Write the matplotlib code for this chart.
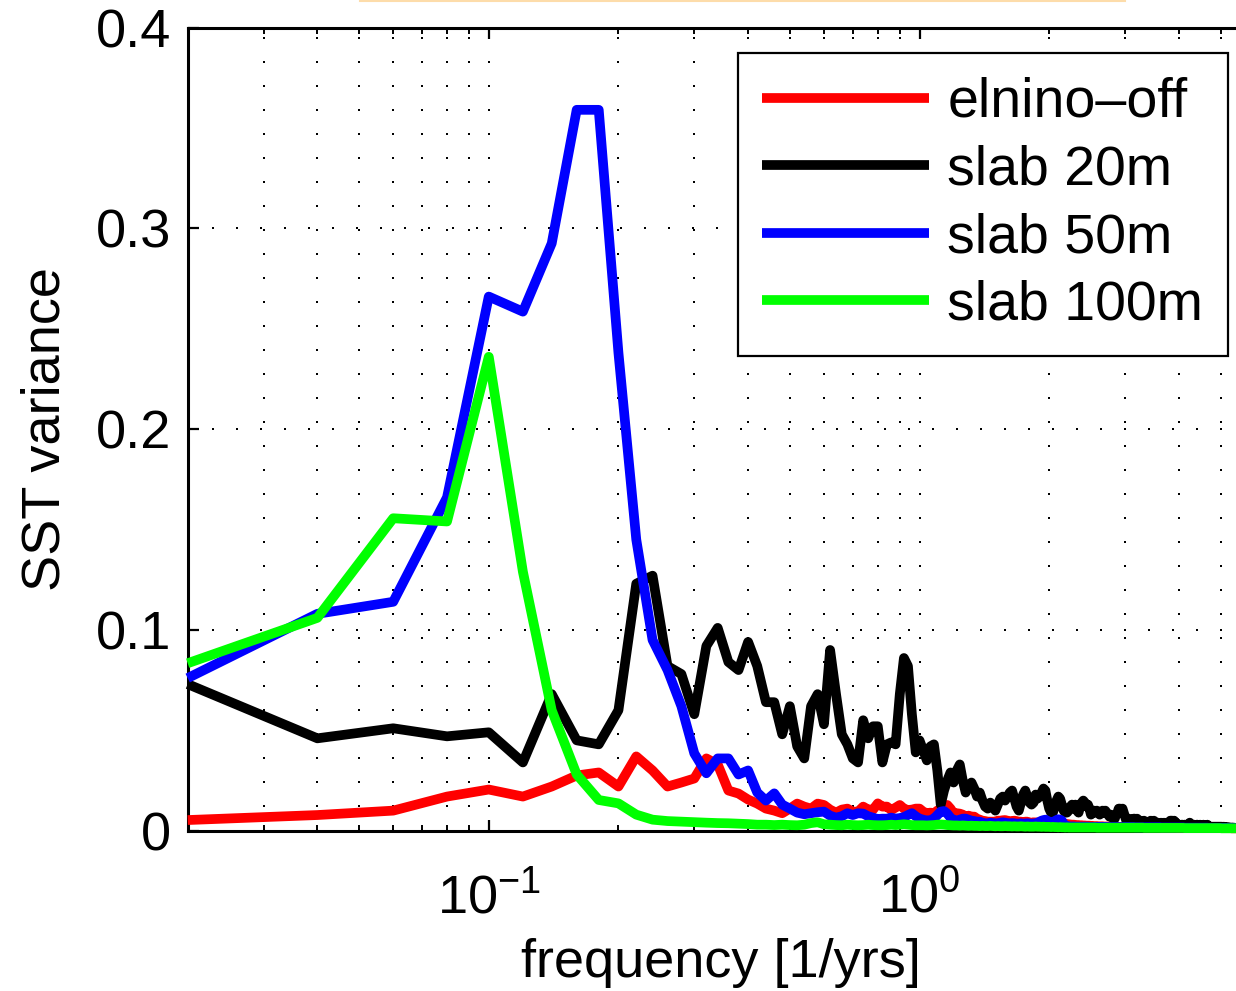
import numpy as np
import matplotlib
matplotlib.use("Agg")
import matplotlib.pyplot as plt
from matplotlib.lines import Line2D
from matplotlib.ticker import FixedLocator, FixedFormatter, LogLocator, NullFormatter

plt.rcParams['font.family'] = ['Liberation Sans', 'DejaVu Sans']
plt.rcParams['mathtext.fontset'] = 'custom'
plt.rcParams['mathtext.rm'] = 'Liberation Sans'
plt.rcParams['mathtext.it'] = 'Liberation Sans:italic'
plt.rcParams['mathtext.bf'] = 'Liberation Sans:bold'

# ---------------- data (frequency grid: 1/50 yr^-1 steps) ----------------
n_points = 300
freq = np.arange(1, n_points + 1) / 50.0

labels = ['elnino\u2013off', 'slab 20m', 'slab 50m', 'slab 100m']
colors = ['#ff0000', '#000000', '#0000ff', '#00ff00']

elnino_off = [
    0.0053, 0.0078, 0.0100, 0.0170, 0.0205, 0.0170, 0.0220, 0.0275, 0.0290, 0.0220,
    0.0370, 0.0300, 0.0220, 0.0240, 0.0260, 0.0360, 0.0330, 0.0200, 0.0185, 0.0155,
    0.0135, 0.0110, 0.0100, 0.0087, 0.0110, 0.0135, 0.0120, 0.0110, 0.0135, 0.0128,
    0.0105, 0.0090, 0.0105, 0.0110, 0.0095, 0.0095, 0.0120, 0.0105, 0.0105, 0.0136,
    0.0120, 0.0120, 0.0103, 0.0115, 0.0128, 0.0110, 0.0103, 0.0105, 0.0110, 0.0110,
    0.0095, 0.0087, 0.0090, 0.0087, 0.0100, 0.0110, 0.0115, 0.0128, 0.0110, 0.0087,
    0.0087, 0.0085, 0.0080, 0.0070, 0.0075, 0.0070, 0.0070, 0.0060, 0.0055, 0.0050,
    0.0048, 0.0045, 0.0045, 0.0045, 0.0045, 0.0050, 0.0050, 0.0052, 0.0053, 0.0050,
    0.0048, 0.0045, 0.0050, 0.0048, 0.0045, 0.0045, 0.0042, 0.0045, 0.0045, 0.0040,
    0.0040, 0.0042, 0.0040, 0.0042, 0.0040, 0.0040, 0.0038, 0.0038, 0.0037, 0.0037,
    0.0037, 0.0036, 0.0035, 0.0037, 0.0036, 0.0036, 0.0035, 0.0035, 0.0035, 0.0033,
    0.0032, 0.0031, 0.0030, 0.0030, 0.0029, 0.0028, 0.0028, 0.0027, 0.0027, 0.0026,
    0.0026, 0.0025, 0.0025, 0.0025, 0.0024, 0.0024, 0.0023, 0.0023, 0.0023, 0.0022,
    0.0022, 0.0022, 0.0022, 0.0021, 0.0021, 0.0021, 0.0021, 0.0020, 0.0020, 0.0020,
    0.0020, 0.0020, 0.0020, 0.0019, 0.0019, 0.0019, 0.0019, 0.0019, 0.0019, 0.0019,
    0.0018, 0.0018, 0.0018, 0.0018, 0.0018, 0.0018, 0.0018, 0.0018, 0.0018, 0.0018,
    0.0018, 0.0018, 0.0018, 0.0018, 0.0018, 0.0017, 0.0017, 0.0017, 0.0017, 0.0017,
    0.0017, 0.0017, 0.0017, 0.0017, 0.0017, 0.0017, 0.0017, 0.0017, 0.0017, 0.0017,
    0.0017, 0.0016, 0.0016, 0.0016, 0.0016, 0.0016, 0.0016, 0.0016, 0.0016, 0.0016,
    0.0016, 0.0016, 0.0016, 0.0016, 0.0016, 0.0016, 0.0016, 0.0015, 0.0015, 0.0015,
    0.0015, 0.0015, 0.0015, 0.0015, 0.0015, 0.0015, 0.0015, 0.0015, 0.0015, 0.0015,
    0.0015, 0.0015, 0.0015, 0.0015, 0.0015, 0.0015, 0.0015, 0.0015, 0.0015, 0.0015,
    0.0015, 0.0015, 0.0015, 0.0015, 0.0014, 0.0014, 0.0014, 0.0014, 0.0014, 0.0014,
    0.0014, 0.0014, 0.0014, 0.0014, 0.0014, 0.0014, 0.0014, 0.0014, 0.0014, 0.0014,
    0.0014, 0.0014, 0.0014, 0.0014, 0.0013, 0.0013, 0.0013, 0.0013, 0.0013, 0.0013,
    0.0013, 0.0013, 0.0013, 0.0013, 0.0013, 0.0013, 0.0013, 0.0013, 0.0013, 0.0013,
    0.0013, 0.0013, 0.0013, 0.0013, 0.0012, 0.0012, 0.0012, 0.0012, 0.0012, 0.0012,
    0.0012, 0.0012, 0.0012, 0.0012, 0.0012, 0.0012, 0.0012, 0.0012, 0.0012, 0.0012,
    0.0012, 0.0012, 0.0012, 0.0012, 0.0012, 0.0012, 0.0012, 0.0012, 0.0012, 0.0012,
    0.0012, 0.0012, 0.0012, 0.0012, 0.0012, 0.0012, 0.0012, 0.0012, 0.0012, 0.0012,
]

slab_20m = [
    0.073, 0.046, 0.051, 0.047, 0.049, 0.034, 0.068, 0.045, 0.043, 0.060,
    0.123, 0.127, 0.082, 0.078, 0.058, 0.092, 0.101, 0.084, 0.080, 0.094,
    0.082, 0.064, 0.064, 0.048, 0.062, 0.042, 0.036, 0.062, 0.068, 0.053,
    0.090, 0.068, 0.048, 0.043, 0.036, 0.034, 0.055, 0.046, 0.052, 0.052,
    0.034, 0.043, 0.044, 0.043, 0.068, 0.086, 0.082, 0.058, 0.039, 0.045,
    0.040, 0.035, 0.042, 0.043, 0.030, 0.013, 0.020, 0.025, 0.029, 0.024,
    0.030, 0.033, 0.025, 0.019, 0.022, 0.024, 0.021, 0.017, 0.019, 0.015,
    0.012, 0.011, 0.014, 0.012, 0.010, 0.013, 0.016, 0.017, 0.015, 0.017,
    0.019, 0.020, 0.016, 0.012, 0.010, 0.014, 0.018, 0.020, 0.017, 0.014,
    0.013, 0.014, 0.018, 0.016, 0.017, 0.019, 0.021, 0.020, 0.015, 0.011,
    0.009, 0.009, 0.012, 0.015, 0.017, 0.016, 0.013, 0.010, 0.009, 0.009,
    0.010, 0.012, 0.013, 0.011, 0.013, 0.010, 0.009, 0.012, 0.014, 0.015,
    0.014, 0.012, 0.013, 0.011, 0.008, 0.009, 0.010, 0.009, 0.010, 0.009,
    0.008, 0.009, 0.010, 0.009, 0.010, 0.009, 0.008, 0.007, 0.008, 0.007,
    0.006, 0.006, 0.008, 0.009, 0.011, 0.011, 0.010, 0.011, 0.009, 0.007,
    0.005, 0.005, 0.006, 0.005, 0.004, 0.005, 0.006, 0.006, 0.005, 0.006,
    0.005, 0.004, 0.005, 0.004, 0.004, 0.005, 0.004, 0.004, 0.003, 0.004,
    0.004, 0.005, 0.004, 0.004, 0.005, 0.004, 0.003, 0.004, 0.004, 0.003,
    0.003, 0.004, 0.003, 0.003, 0.004, 0.003, 0.003, 0.004, 0.003, 0.004,
    0.005, 0.005, 0.005, 0.004, 0.005, 0.004, 0.004, 0.003, 0.003, 0.003,
    0.003, 0.002, 0.003, 0.003, 0.002, 0.003, 0.003, 0.002, 0.003, 0.003,
    0.003, 0.004, 0.003, 0.003, 0.003, 0.002, 0.003, 0.002, 0.002, 0.003,
    0.003, 0.002, 0.002, 0.003, 0.002, 0.002, 0.002, 0.003, 0.002, 0.002,
    0.002, 0.002, 0.003, 0.002, 0.002, 0.002, 0.002, 0.002, 0.002, 0.002,
    0.002, 0.002, 0.002, 0.002, 0.002, 0.002, 0.002, 0.002, 0.002, 0.002,
    0.002, 0.0018, 0.0018, 0.002, 0.0018, 0.0018, 0.0016, 0.0018, 0.0016, 0.0016,
    0.0016, 0.0015, 0.0016, 0.0015, 0.0015, 0.0016, 0.0015, 0.0014, 0.0015, 0.0014,
    0.0014, 0.0014, 0.0013, 0.0014, 0.0013, 0.0013, 0.0014, 0.0013, 0.0013, 0.0012,
    0.0012, 0.0013, 0.0012, 0.0012, 0.0012, 0.0011, 0.0012, 0.0011, 0.0011, 0.0011,
    0.0011, 0.0010, 0.0011, 0.0010, 0.0010, 0.0010, 0.0010, 0.0010, 0.0010, 0.0010,
]

slab_50m = [
    0.076, 0.108, 0.114, 0.166, 0.266, 0.2585, 0.2925, 0.359, 0.359, 0.238,
    0.145, 0.095, 0.080, 0.062, 0.0385, 0.0286, 0.036, 0.036, 0.028, 0.030,
    0.019, 0.015, 0.0186, 0.013, 0.011, 0.009, 0.0082, 0.0087, 0.0092, 0.0095,
    0.0075, 0.0065, 0.0072, 0.0087, 0.0078, 0.0087, 0.0085, 0.0072, 0.0065, 0.0058,
    0.0060, 0.0060, 0.0065, 0.0060, 0.0063, 0.0068, 0.0078, 0.0087, 0.0072, 0.0060,
    0.0055, 0.0050, 0.0053, 0.0060, 0.0078, 0.0095, 0.0098, 0.0085, 0.0065, 0.0052,
    0.0050, 0.0055, 0.0060, 0.0060, 0.0055, 0.0050, 0.0048, 0.0045, 0.0045, 0.0040,
    0.0037, 0.0037, 0.0040, 0.0038, 0.0037, 0.0035, 0.0040, 0.0042, 0.0040, 0.0038,
    0.0037, 0.0038, 0.0037, 0.0035, 0.0035, 0.0037, 0.0035, 0.0036, 0.0037, 0.0036,
    0.0035, 0.0036, 0.0037, 0.0040, 0.0045, 0.0050, 0.0053, 0.0055, 0.0050, 0.0045,
    0.0040, 0.0042, 0.0048, 0.0053, 0.0057, 0.0055, 0.0050, 0.0035, 0.0025, 0.0022,
    0.0022, 0.0021, 0.0021, 0.0021, 0.0020, 0.0020, 0.0020, 0.0020, 0.0020, 0.0020,
    0.0020, 0.0020, 0.0020, 0.0019, 0.0019, 0.0019, 0.0019, 0.0019, 0.0019, 0.0019,
    0.0019, 0.0019, 0.0019, 0.0019, 0.0019, 0.0018, 0.0018, 0.0018, 0.0018, 0.0018,
    0.0018, 0.0018, 0.0018, 0.0018, 0.0018, 0.0018, 0.0018, 0.0018, 0.0018, 0.0018,
    0.0018, 0.0018, 0.0018, 0.0018, 0.0018, 0.0018, 0.0018, 0.0017, 0.0017, 0.0017,
    0.0017, 0.0017, 0.0017, 0.0017, 0.0017, 0.0017, 0.0017, 0.0017, 0.0017, 0.0017,
    0.0017, 0.0017, 0.0017, 0.0017, 0.0017, 0.0017, 0.0017, 0.0017, 0.0017, 0.0017,
    0.0017, 0.0016, 0.0016, 0.0016, 0.0016, 0.0016, 0.0016, 0.0016, 0.0016, 0.0016,
    0.0016, 0.0016, 0.0016, 0.0016, 0.0016, 0.0016, 0.0016, 0.0016, 0.0016, 0.0016,
    0.0016, 0.0016, 0.0016, 0.0016, 0.0016, 0.0015, 0.0015, 0.0015, 0.0015, 0.0015,
    0.0015, 0.0015, 0.0015, 0.0015, 0.0015, 0.0015, 0.0015, 0.0015, 0.0015, 0.0015,
    0.0015, 0.0015, 0.0015, 0.0015, 0.0015, 0.0015, 0.0015, 0.0015, 0.0015, 0.0015,
    0.0015, 0.0015, 0.0015, 0.0014, 0.0014, 0.0014, 0.0014, 0.0014, 0.0014, 0.0014,
    0.0014, 0.0014, 0.0014, 0.0014, 0.0014, 0.0014, 0.0014, 0.0014, 0.0014, 0.0014,
    0.0014, 0.0014, 0.0014, 0.0014, 0.0014, 0.0014, 0.0014, 0.0014, 0.0014, 0.0014,
    0.0014, 0.0013, 0.0013, 0.0013, 0.0013, 0.0013, 0.0013, 0.0013, 0.0013, 0.0013,
    0.0013, 0.0013, 0.0013, 0.0013, 0.0013, 0.0013, 0.0013, 0.0013, 0.0013, 0.0013,
    0.0013, 0.0013, 0.0013, 0.0013, 0.0013, 0.0013, 0.0013, 0.0013, 0.0013, 0.0013,
    0.0013, 0.0013, 0.0013, 0.0013, 0.0013, 0.0013, 0.0013, 0.0013, 0.0013, 0.0013,
]

slab_100m = [
    0.0834, 0.106, 0.1556, 0.154, 0.236, 0.129, 0.060, 0.028, 0.0153, 0.0136,
    0.0080, 0.0055, 0.0048, 0.0045, 0.0042, 0.0040, 0.0038, 0.0037, 0.0035, 0.0033,
    0.0030, 0.0030, 0.0028, 0.0030, 0.0028, 0.0027, 0.0030, 0.0038, 0.0042, 0.0032,
    0.0030, 0.0028, 0.0027, 0.0030, 0.0028, 0.0027, 0.0028, 0.0030, 0.0028, 0.0027,
    0.0027, 0.0028, 0.0030, 0.0028, 0.0030, 0.0032, 0.0030, 0.0028, 0.0027, 0.0027,
    0.0027, 0.0026, 0.0027, 0.0028, 0.0030, 0.0031, 0.0030, 0.0028, 0.0027, 0.0026,
    0.0026, 0.0025, 0.0026, 0.0025, 0.0024, 0.0025, 0.0024, 0.0024, 0.0023, 0.0024,
    0.0023, 0.0023, 0.0024, 0.0023, 0.0022, 0.0023, 0.0022, 0.0022, 0.0023, 0.0022,
    0.0022, 0.0021, 0.0022, 0.0021, 0.0021, 0.0022, 0.0021, 0.0020, 0.0021, 0.0020,
    0.0020, 0.0020, 0.0021, 0.0020, 0.0020, 0.0019, 0.0020, 0.0019, 0.0019, 0.0019,
    0.0018, 0.0019, 0.0018, 0.0018, 0.0017, 0.0018, 0.0017, 0.0017, 0.0016, 0.0017,
    0.0016, 0.0016, 0.0016, 0.0016, 0.0016, 0.0016, 0.0016, 0.0016, 0.0016, 0.0016,
    0.0016, 0.0016, 0.0016, 0.0016, 0.0016, 0.0016, 0.0016, 0.0016, 0.0015, 0.0015,
    0.0015, 0.0015, 0.0015, 0.0015, 0.0015, 0.0015, 0.0015, 0.0015, 0.0015, 0.0015,
    0.0015, 0.0015, 0.0015, 0.0015, 0.0015, 0.0015, 0.0015, 0.0015, 0.0015, 0.0015,
    0.0015, 0.0015, 0.0015, 0.0015, 0.0015, 0.0015, 0.0015, 0.0015, 0.0015, 0.0015,
    0.0015, 0.0015, 0.0015, 0.0015, 0.0015, 0.0014, 0.0014, 0.0014, 0.0014, 0.0014,
    0.0014, 0.0014, 0.0014, 0.0014, 0.0014, 0.0014, 0.0014, 0.0014, 0.0014, 0.0014,
    0.0014, 0.0014, 0.0014, 0.0014, 0.0014, 0.0014, 0.0014, 0.0014, 0.0014, 0.0014,
    0.0014, 0.0014, 0.0014, 0.0014, 0.0014, 0.0014, 0.0014, 0.0014, 0.0014, 0.0014,
    0.0014, 0.0014, 0.0014, 0.0014, 0.0014, 0.0013, 0.0013, 0.0013, 0.0013, 0.0013,
    0.0013, 0.0013, 0.0013, 0.0013, 0.0013, 0.0013, 0.0013, 0.0013, 0.0013, 0.0013,
    0.0013, 0.0013, 0.0013, 0.0013, 0.0013, 0.0013, 0.0013, 0.0013, 0.0013, 0.0013,
    0.0013, 0.0013, 0.0013, 0.0013, 0.0013, 0.0013, 0.0013, 0.0013, 0.0013, 0.0013,
    0.0013, 0.0013, 0.0013, 0.0013, 0.0013, 0.0013, 0.0013, 0.0013, 0.0013, 0.0013,
    0.0012, 0.0012, 0.0012, 0.0012, 0.0012, 0.0012, 0.0012, 0.0012, 0.0012, 0.0012,
    0.0012, 0.0012, 0.0012, 0.0012, 0.0012, 0.0012, 0.0012, 0.0012, 0.0012, 0.0012,
    0.0012, 0.0012, 0.0012, 0.0012, 0.0012, 0.0012, 0.0012, 0.0012, 0.0012, 0.0012,
    0.0012, 0.0012, 0.0012, 0.0012, 0.0012, 0.0012, 0.0012, 0.0012, 0.0012, 0.0012,
    0.0012, 0.0012, 0.0012, 0.0012, 0.0012, 0.0012, 0.0012, 0.0012, 0.0012, 0.0012,
]

series = [elnino_off, slab_20m, slab_50m, slab_100m]

x_major_ticks = [0.1, 1.0]
x_major_labels = [r'$\mathregular{10^{-1}}$', r'$\mathregular{10^{0}}$']
y_ticks = [0.0, 0.1, 0.2, 0.3, 0.4]
y_tick_labels = ['0', '0.1', '0.2', '0.3', '0.4']

# ---------------- figure ----------------
W, H = 1236, 991
fig = plt.figure(figsize=(W / 100, H / 100), dpi=100)
left_px, right_px, top_px, bottom_px = 187.7, 1254.7, 27.5, 830.7
ax = fig.add_axes([left_px / W, 1 - bottom_px / H,
                   (right_px - left_px) / W, (bottom_px - top_px) / H])

FS = 39
for vals, col, lab in zip(series, colors, labels):
    ax.plot(freq, vals, color=col, lw=7.0, label=lab, solid_joinstyle='round',
            solid_capstyle='butt', clip_on=False, zorder=3)

ax.set_xscale('log')
ax.set_xlim(0.02, 6.0)
ax.set_ylim(0, 0.4)

ax.xaxis.set_major_locator(FixedLocator(x_major_ticks))
ax.xaxis.set_major_formatter(FixedFormatter(x_major_labels))
ax.xaxis.set_minor_locator(LogLocator(base=10, subs=np.arange(2, 10)))
ax.xaxis.set_minor_formatter(NullFormatter())
ax.set_yticks(y_ticks)
ax.set_yticklabels(y_tick_labels)

dot = (0, (1, 11))
ax.grid(True, which='major', axis='both', color='k', ls=dot, lw=1.44)
ax.grid(True, which='minor', axis='x', color='k', ls=dot, lw=1.44)
ax.set_axisbelow(True)

for sp in ax.spines.values():
    sp.set_linewidth(2.2)

ax.tick_params(which='major', direction='in', length=8, width=1.6,
               top=True, right=True, labelsize=FS)
ax.tick_params(which='minor', direction='in', length=4, width=1.4,
               top=True, right=False)
ax.tick_params(axis='x', which='major', pad=30)
ax.tick_params(axis='y', which='major', pad=12)

ax.set_xlabel('frequency [1/yrs]', fontsize=FS, labelpad=10)
ax.set_ylabel('SST variance', fontsize=FS, labelpad=18)

leg = ax.legend(loc='upper right', bbox_to_anchor=(1227.7 / W, 1 - 52.5 / H),
                bbox_transform=fig.transFigure, fontsize=40, frameon=True,
                fancybox=False, edgecolor='k', framealpha=1, borderaxespad=0,
                handlelength=3.0, handletextpad=0.33, labelspacing=0.28,
                borderpad=0.44)
leg.get_frame().set_linewidth(1.6)
leg.set_zorder(5)

# thin pale-orange strip along the very top edge of the image
fig.add_artist(Line2D([360 / W, 1125 / W], [1 - 0.8 / H, 1 - 0.8 / H],
                      transform=fig.transFigure, color='#fddcaa', lw=1.5))

fig.savefig('out.png', dpi=100)
